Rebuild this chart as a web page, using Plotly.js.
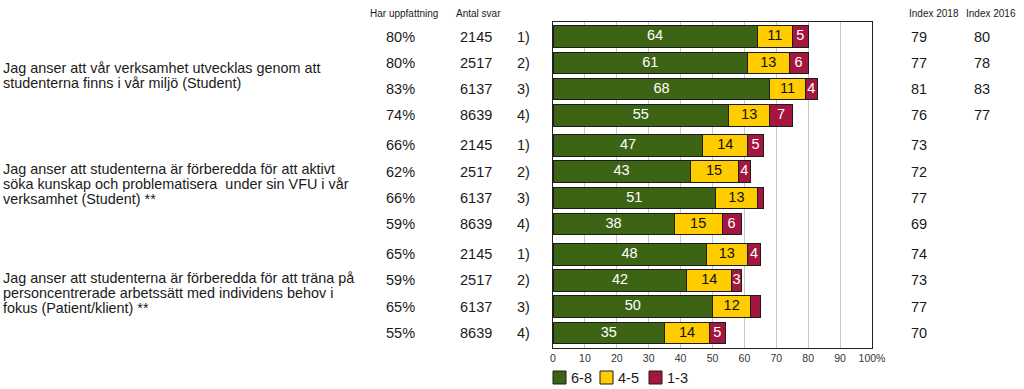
<!DOCTYPE html>
<html>
<head>
<meta charset="utf-8">
<script src="https://cdn.plot.ly/plotly-3.0.1.min.js"></script>
<style>html,body{margin:0;padding:0;background:#fff;}#chart{width:1024px;height:389px;}</style>
</head>
<body>
<div id="chart"></div>
<script>
// ---- data ----
const categories = ['1)', '2)', '3)', '4)'];
const questions = [
  'Jag anser att vår verksamhet utvecklas genom att\nstudenterna finns i vår miljö (Student)',
  'Jag anser att studenterna är förberedda för att aktivt\nsöka kunskap och problematisera\u00a0 under sin VFU i vår\nverksamhet (Student) **',
  'Jag anser att studenterna är förberedda för att träna på\npersoncentrerade arbetssätt med individens behov i\nfokus (Patient/klient) **'
];
const seriesNames = ['6-8', '4-5', '1-3'];
const high = [64, 61, 68, 55, 47, 43, 51, 38, 48, 42, 50, 35];
const mid  = [11, 13, 11, 13, 14, 15, 13, 15, 13, 14, 12, 14];
const low  = [5, 6, 4, 7, 5, 4, 2, 6, 4, 3, 3, 5];
const lowLabels = ['5', '6', '4', '7', '5', '4', '', '6', '4', '3', '', '5'];
const harUppfattning = ['80%', '80%', '83%', '74%', '66%', '62%', '66%', '59%', '65%', '59%', '65%', '55%'];
const antalSvar = ['2145', '2517', '6137', '8639', '2145', '2517', '6137', '8639', '2145', '2517', '6137', '8639'];
const index2018 = ['79', '77', '81', '76', '73', '72', '77', '69', '74', '73', '77', '70'];
const index2016 = ['80', '78', '83', '77', '', '', '', '', '', '', '', ''];
const colHeaders = ['Har uppfattning', 'Antal svar', 'Index 2018', 'Index 2016'];
const xTickVals = [0, 10, 20, 30, 40, 50, 60, 70, 80, 90, 100];
const xTickText = ['0', '10', '20', '30', '40', '50', '60', '70', '80', '90', '100%'];

// ---- style / layout helpers ----
const colors = ['#3d6415', '#ffcc00', '#a3163e'];
const textColors = ['#ffffff', '#111111', '#ffffff'];
const FONT = 'Liberation Sans, Arial, sans-serif';
const W = 1024, H = 389, L = 553, R = 872, T = 22, B = 348;
const px = x => (x - L) / (R - L);
const py = y => (B - y) / (B - T);
const GROUP_STEP = 4.145;
const yPos = high.map((_, k) => Math.floor(k / 4) * GROUP_STEP + (k % 4));

const traces = [];
const segs = [high, mid, low];
segs.forEach((vals, s) => {
  traces.push({
    type: 'bar', orientation: 'h', name: seriesNames[s],
    x: vals, y: yPos, width: 0.82,
    marker: {color: colors[s], line: {color: '#1c1c1c', width: 1}},
    hoverinfo: 'x', showlegend: false
  });
});
// labels inside segments
const labelSets = [high.map(String), mid.map(String), lowLabels];
segs.forEach((vals, s) => {
  const xs = vals.map((v, k) => {
    let start = 0;
    for (let j = 0; j < s; j++) start += segs[j][k];
    return start + v / 2;
  });
  traces.push({
    type: 'scatter', mode: 'text', x: xs, y: yPos, text: labelSets[s],
    textposition: 'middle center',
    textfont: {family: FONT, size: 14.5, color: textColors[s]},
    hoverinfo: 'skip', showlegend: false, cliponaxis: false
  });
});

const annotations = [];
const shapes = [];
const valFont = {family: FONT, size: 14.5, color: '#1a1a1a'};
const hdrFont = {family: FONT, size: 10, color: '#1a1a1a'};
// column headers
[[404, 'center'], [478, 'center'], [934, 'center'], [991, 'center']].forEach((c, i) => {
  annotations.push({xref: 'paper', yref: 'paper', x: px(c[0]), y: py(14), xanchor: c[1], yanchor: 'middle',
    text: colHeaders[i], showarrow: false, font: hdrFont});
});
yPos.forEach((y, k) => {
  annotations.push({xref: 'paper', yref: 'y', x: px(400), y: y, xanchor: 'center', yanchor: 'middle', text: harUppfattning[k], showarrow: false, font: valFont});
  annotations.push({xref: 'paper', yref: 'y', x: px(476), y: y, xanchor: 'center', yanchor: 'middle', text: antalSvar[k], showarrow: false, font: valFont});
  annotations.push({xref: 'paper', yref: 'y', x: px(532), y: y, xanchor: 'right', yanchor: 'middle', text: categories[k % 4], showarrow: false, font: valFont});
  annotations.push({xref: 'paper', yref: 'y', x: px(909), y: y, xanchor: 'left', yanchor: 'middle', text: index2018[k], showarrow: false, font: valFont});
  if (index2016[k]) annotations.push({xref: 'paper', yref: 'y', x: px(972), y: y, xanchor: 'left', yanchor: 'middle', text: index2016[k], showarrow: false, font: valFont});
});
// questions, one annotation per line
questions.forEach((q, g) => {
  const lines = q.split('\n');
  const center = g * GROUP_STEP + 1.5;
  const LH = 15;
  lines.forEach((ln, i) => {
    annotations.push({xref: 'paper', yref: 'y', x: px(1), y: center, xanchor: 'left', yanchor: 'middle',
      yshift: -((i - (lines.length - 1) / 2) * LH) + 1, text: ln, showarrow: false,
      font: {family: FONT, size: 14.4, color: '#1a1a1a'}});
  });
});
// legend (manual)
const legX = [553, 600, 649];
seriesNames.forEach((n, s) => {
  shapes.push({type: 'rect', xref: 'paper', yref: 'paper', x0: px(legX[s]), x1: px(legX[s] + 13), y0: py(384), y1: py(371),
    fillcolor: colors[s], line: {color: '#1c1c1c', width: 1}});
  annotations.push({xref: 'paper', yref: 'paper', x: px(legX[s] + 16), y: py(378), xanchor: 'left', yanchor: 'middle',
    text: n, showarrow: false, font: {family: FONT, size: 14.5, color: '#1a1a1a'}});
});

const layout = {
  width: W, height: H,
  margin: {l: L, r: W - R, t: T, b: H - B, pad: 0},
  barmode: 'stack', bargap: 0,
  paper_bgcolor: '#fff', plot_bgcolor: '#fff',
  font: {family: FONT, color: '#1a1a1a'},
  xaxis: {range: [0, 100], tickvals: xTickVals, ticktext: xTickText, showgrid: true, gridcolor: '#c8c8c8', gridwidth: 1,
    zeroline: false, showline: true, mirror: true, linecolor: '#222', linewidth: 1, ticks: '',
    tickfont: {family: FONT, size: 10.5, color: '#333'}, fixedrange: true},
  yaxis: {range: [3 * GROUP_STEP - GROUP_STEP + 3 + 0.573, -0.561], showticklabels: false, showgrid: false, zeroline: false,
    showline: true, mirror: true, linecolor: '#222', linewidth: 1, ticks: '', fixedrange: true},
  showlegend: false,
  annotations: annotations, shapes: shapes
};
Plotly.newPlot('chart', traces, layout, {displayModeBar: false, staticPlot: true});
</script>
</body>
</html>
